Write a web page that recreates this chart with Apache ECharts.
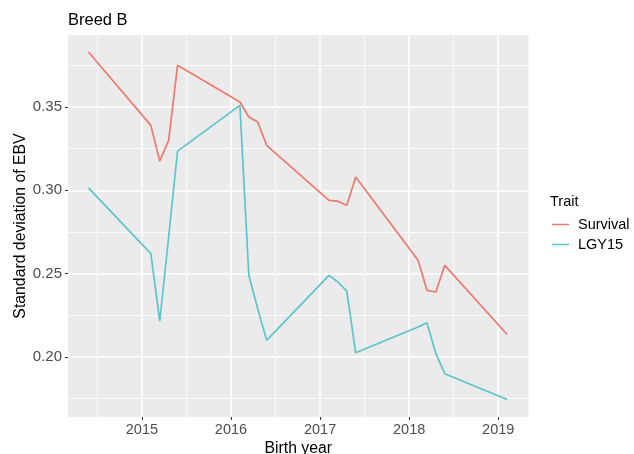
<!DOCTYPE html>
<html>
<head>
<meta charset="utf-8">
<script src="https://cdn.jsdelivr.net/npm/echarts@6/dist/echarts.min.js"></script>
<style>
  html, body { margin: 0; padding: 0; background: #fff; }
  #chart { width: 634px; height: 454px; }
</style>
</head>
<body>
<div id="chart"></div>
<script>
// birth year (year + quarter/10) and SD of EBV
const birthYear = [2014.4, 2015.1, 2015.2, 2015.3, 2015.4, 2016.1, 2016.2, 2016.3, 2016.4,
  2017.1, 2017.2, 2017.3, 2017.4, 2018.1, 2018.2, 2018.3, 2018.4, 2019.1];
const survival = [0.383, 0.339, 0.3175, 0.330, 0.375, 0.353, 0.344, 0.341, 0.327,
  0.294, 0.2935, 0.291, 0.308, 0.258, 0.240, 0.239, 0.255, 0.2135];
const lgy15 = [0.3015, 0.262, 0.2215, 0.272, 0.3235, 0.351, 0.249, 0.229, 0.210,
  0.249, 0.245, 0.2395, 0.2025, 0.218, 0.2205, 0.202, 0.190, 0.1745];

const xTicks = [2015, 2016, 2017, 2018, 2019];
const xMinor = [2014.5, 2015.5, 2016.5, 2017.5, 2018.5];
const yTicks = [0.20, 0.25, 0.30, 0.35];
const yMinor = [0.175, 0.225, 0.275, 0.325, 0.375];

const font = "'Liberation Sans', Arial, Helvetica, sans-serif";
const red = "#F0786C";
const cyan = "#5DC4CC";

function pairs(xs, ys) {
  return xs.map((x, i) => [x, ys[i]]);
}

const chart = echarts.init(document.getElementById("chart"));

const option = {
  animation: false,
  textStyle: { fontFamily: font },
  title: [
    {
      text: "Breed B",
      left: 68,
      top: 12,
      padding: 0,
      textStyle: { fontFamily: font, fontSize: 16.5, fontWeight: "normal", color: "#000" }
    },
    {
      text: "Trait",
      left: 550,
      top: 194,
      padding: 0,
      textStyle: { fontFamily: font, fontSize: 14.5, fontWeight: "normal", color: "#000" }
    }
  ],
  legend: {
    orient: "vertical",
    left: 552,
    top: 217,
    padding: 0,
    itemWidth: 17,
    itemHeight: 17,
    itemGap: 5,
    icon: "path://M0,0L17,0L17,1.5L0,1.5Z",
    textStyle: { fontFamily: font, fontSize: 14.5, color: "#000", padding: [0, 0, 0, 4] },
    data: ["Survival", "LGY15"]
  },
  grid: {
    left: 68,
    right: 105.5,
    top: 35,
    bottom: 37,
    show: true,
    outerBoundsMode: "none",
    backgroundColor: "#EBEBEB",
    borderWidth: 0
  },
  xAxis: [
    {
      type: "value",
      min: 2014.17,
      max: 2019.34,
      name: "Birth year",
      nameLocation: "middle",
      nameGap: 24,
      nameMoveOverlap: false,
      nameTextStyle: { fontFamily: font, fontSize: 15.8, color: "#000" },
      axisLine: { show: false },
      axisTick: { show: true, length: 3, customValues: xTicks, lineStyle: { color: "#333", width: 1 } },
      axisLabel: {
        customValues: xTicks,
        margin: 5,
        fontFamily: font,
        fontSize: 14.5,
        color: "#4D4D4D",
        formatter: v => String(Math.round(v))
      },
      splitLine: { show: true, lineStyle: { color: "#fff", width: 1.6 } }
    },
    {
      type: "value",
      min: 2014.17,
      max: 2019.34,
      axisLine: { show: false },
      axisTick: { show: false, customValues: xMinor },
      axisLabel: { show: false, customValues: xMinor },
      splitLine: { show: true, lineStyle: { color: "#fff", width: 0.8 } }
    }
  ],
  yAxis: [
    {
      type: "value",
      min: 0.164,
      max: 0.3932,
      name: "Standard deviation of EBV",
      nameLocation: "middle",
      nameGap: 39,
      nameMoveOverlap: false,
      nameTextStyle: { fontFamily: font, fontSize: 15.8, color: "#000" },
      axisLine: { show: false },
      axisTick: { show: true, length: 3, customValues: yTicks, lineStyle: { color: "#333", width: 1 } },
      axisLabel: {
        customValues: yTicks,
        margin: 6,
        fontFamily: font,
        fontSize: 15,
        color: "#4D4D4D",
        formatter: v => v.toFixed(2)
      },
      splitLine: { show: true, lineStyle: { color: "#fff", width: 1.6 } }
    },
    {
      type: "value",
      min: 0.164,
      max: 0.3932,
      axisLine: { show: false },
      axisTick: { show: false, customValues: yMinor },
      axisLabel: { show: false, customValues: yMinor },
      splitLine: { show: true, lineStyle: { color: "#fff", width: 0.8 } }
    }
  ],
  series: [
    {
      name: "Survival",
      type: "line",
      xAxisIndex: 0,
      yAxisIndex: 0,
      data: pairs(birthYear, survival),
      symbol: "none",
      color: red,
      lineStyle: { color: red, width: 1.7 }
    },
    {
      name: "LGY15",
      type: "line",
      xAxisIndex: 0,
      yAxisIndex: 0,
      data: pairs(birthYear, lgy15),
      symbol: "none",
      color: cyan,
      lineStyle: { color: cyan, width: 1.7 }
    }
  ]
};

chart.setOption(option);
</script>
</body>
</html>
